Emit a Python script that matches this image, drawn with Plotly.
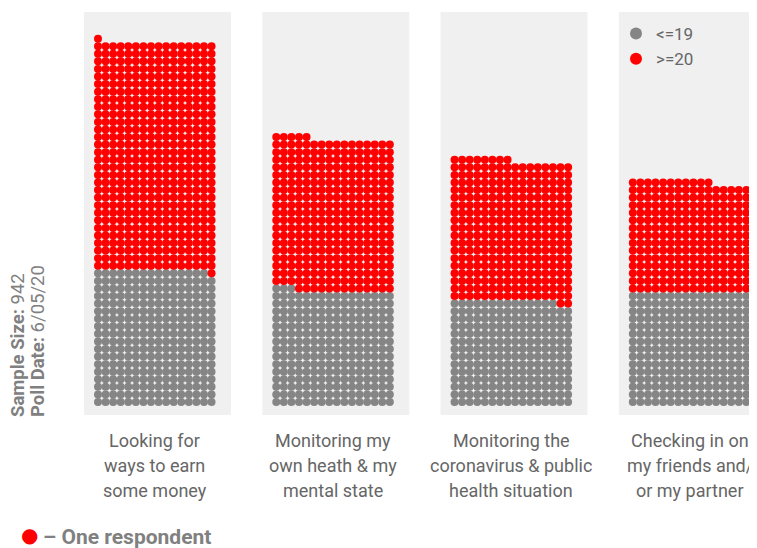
import plotly.graph_objects as go

# ---- data (counts of respondents, one dot each) ----
categories = [
    "Looking for\nways to earn\nsome money",
    "Monitoring my\nown heath & my\nmental state",
    "Monitoring the\ncoronavirus & public\nhealth situation",
    "Checking in on\nmy friends and/\nor my partner",
]
low_counts = [287, 243, 222, 240]    # <=19
high_counts = [482, 322, 298, 235]   # >=20
series_names = ["<=19", ">=20"]
series_colors = ["#858585", "#ff0000"]
side_note = [("Sample Size:", "942"), ("Poll Date:", "6/05/20")]
key_text = "– One respondent"

# ---- layout constants (reference pixel coords; page body adds 8px offset) ----
BODY = 8
W, H = 757, 548
PL, PR, PT, PB = 84, 765, 12, 415   # plot area in reference pixels
COLS = 16
UNIT = 7.57            # px per dot step
PANEL_STEP = 23.55     # panel offset in dot units
FONT = "Roboto"

plot_w = PR - PL
plot_h = PB - PT
x0 = -14 / UNIT
x_range = [x0, x0 + plot_w / UNIT]
y0 = -13 / UNIT
y_range = [y0, y0 + plot_h / UNIT]

def px(xp):
    return (xp - PL) / plot_w

def py(yp):
    return (PB - yp) / plot_h

fig = go.Figure()

# panel backgrounds
for p in range(len(categories)):
    off = p * PANEL_STEP
    fig.add_shape(type="rect", xref="x", yref="y", layer="below",
                  x0=off + x0, x1=off + x0 + 147 / UNIT,
                  y0=y_range[0], y1=y_range[1],
                  fillcolor="#f0f0f0", line=dict(width=0))

def positions(p, start, count):
    xs, ys = [], []
    for i in range(start, start + count):
        xs.append(p * PANEL_STEP + (i % COLS))
        ys.append(i // COLS)
    return xs, ys

for s, (name, color) in enumerate(zip(series_names, series_colors)):
    xs_all, ys_all = [], []
    for p in range(len(categories)):
        if s == 0:
            xs, ys = positions(p, 0, low_counts[p])
        else:
            xs, ys = positions(p, low_counts[p], high_counts[p])
        xs_all += xs
        ys_all += ys
    fig.add_trace(go.Scatter(
        x=xs_all, y=ys_all, mode="markers", name=name,
        marker=dict(color=color, size=8, line=dict(width=0)),
        hoverinfo="skip"))

# category labels
for p, cat in enumerate(categories):
    for li, line in enumerate(cat.split("\n")):
        fig.add_annotation(
            x=p * PANEL_STEP + 7.5, xref="x",
            y=py(440 + li * 25), yref="paper",
            text=line, showarrow=False, xanchor="center", yanchor="middle",
            font=dict(family=FONT, size=18, color="#666666"))

# rotated side note (two columns)
for i, (lab, val) in enumerate(side_note):
    fig.add_annotation(
        x=px(18 + i * 20), xref="paper",
        y=py(419), yref="paper",
        text=f"<b>{lab}</b> {val}",
        textangle=-90, showarrow=False, xanchor="center", yanchor="bottom",
        font=dict(family=FONT, size=18.5, color="#808080"))

# one respondent key
fig.add_annotation(
    x=px(30), xref="paper", y=py(535), yref="paper",
    text="●", showarrow=False, xanchor="center", yanchor="middle",
    font=dict(family="DejaVu Sans", size=20, color="#ff0000"))
fig.add_annotation(
    x=px(41), xref="paper", y=py(537), yref="paper",
    text=f"<b>{key_text}</b>", showarrow=False, xanchor="left", yanchor="middle",
    font=dict(family=FONT, size=21, color="#808080"))

fig.update_layout(
    width=PR - BODY, height=H - BODY,
    margin=dict(l=PL - BODY, r=0, t=PT - BODY, b=H - PB),
    paper_bgcolor="white", plot_bgcolor="white",
    showlegend=True,
    legend=dict(x=px(616), y=py(16),
                xanchor="left", yanchor="top",
                bgcolor="rgba(0,0,0,0)", itemsizing="constant",
                font=dict(family=FONT, size=17, color="#666666")),
    xaxis=dict(range=x_range, visible=False, fixedrange=True),
    yaxis=dict(range=y_range, visible=False, fixedrange=True),
)

fig.write_html("out.html")
